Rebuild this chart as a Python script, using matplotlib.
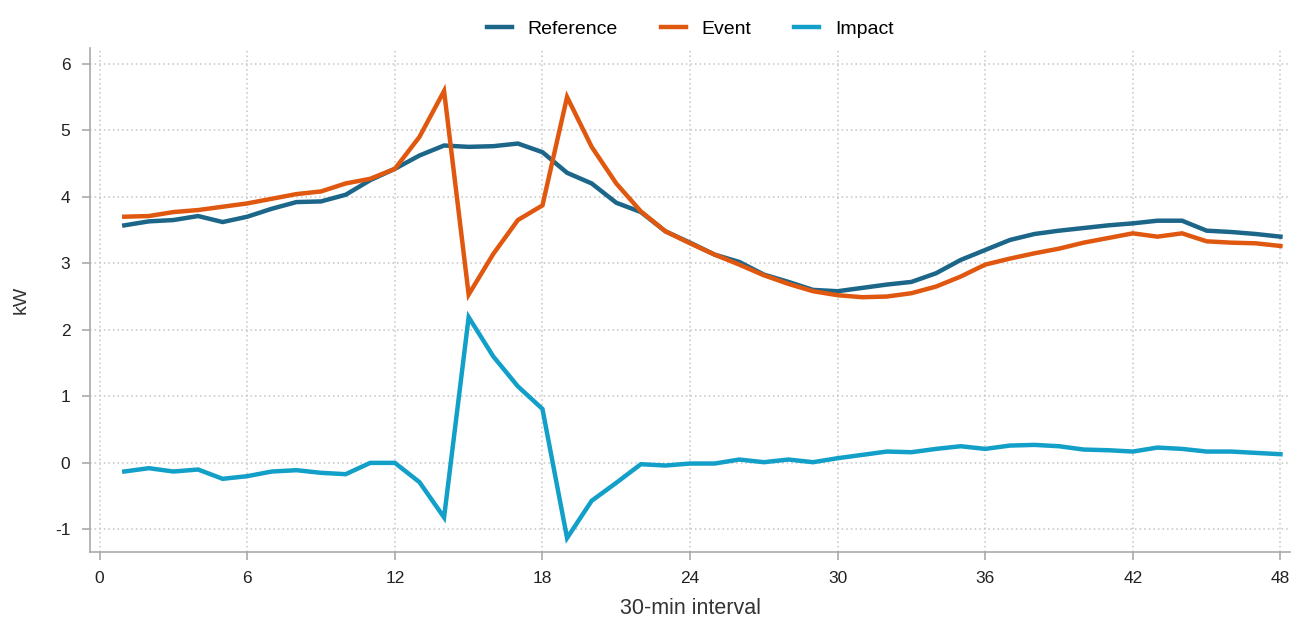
import matplotlib
matplotlib.use("Agg")
import matplotlib.pyplot as plt

plt.rcParams['font.family'] = ['Liberation Sans', 'DejaVu Sans']
plt.rcParams['axes.unicode_minus'] = False

intervals = list(range(1, 49))

reference = [3.57, 3.63, 3.65, 3.71, 3.62, 3.70, 3.82, 3.92, 3.93, 4.03,
             4.25, 4.42, 4.62, 4.77, 4.75, 4.76, 4.80, 4.67, 4.36, 4.20,
             3.91, 3.77, 3.48, 3.31, 3.13, 3.02, 2.83, 2.72, 2.60, 2.58,
             2.63, 2.68, 2.72, 2.85, 3.05, 3.20, 3.35, 3.44, 3.49, 3.53,
             3.57, 3.60, 3.64, 3.64, 3.49, 3.47, 3.44, 3.40]

event = [3.70, 3.71, 3.77, 3.80, 3.85, 3.90, 3.97, 4.04, 4.08, 4.20,
         4.27, 4.42, 4.90, 5.59, 2.53, 3.14, 3.65, 3.87, 5.50, 4.75,
         4.20, 3.78, 3.48, 3.30, 3.13, 2.98, 2.82, 2.69, 2.58, 2.52,
         2.49, 2.50, 2.55, 2.65, 2.80, 2.98, 3.07, 3.15, 3.22, 3.31,
         3.38, 3.45, 3.40, 3.45, 3.33, 3.31, 3.30, 3.26]

impact = [-0.13, -0.08, -0.13, -0.10, -0.24, -0.20, -0.13, -0.11, -0.15, -0.17,
          0.00, 0.00, -0.29, -0.82, 2.19, 1.60, 1.15, 0.81, -1.13, -0.57,
          -0.30, -0.02, -0.04, -0.01, -0.01, 0.05, 0.01, 0.05, 0.01, 0.07,
          0.12, 0.17, 0.16, 0.21, 0.25, 0.21, 0.26, 0.27, 0.25, 0.20,
          0.19, 0.17, 0.23, 0.21, 0.17, 0.17, 0.15, 0.13]

x_ticks = [0, 6, 12, 18, 24, 30, 36, 42, 48]
y_ticks = [-1, 0, 1, 2, 3, 4, 5, 6]

fig = plt.figure(figsize=(13.02, 6.28), dpi=100)
ax = fig.add_axes([0.069, 0.121, 0.922, 0.803])

ax.plot(intervals, reference, color="#1c6689", lw=3.2, label="Reference", solid_joinstyle="miter")
ax.plot(intervals, event, color="#e0580f", lw=3.2, label="Event", solid_joinstyle="miter")
ax.plot(intervals, impact, color="#129fc8", lw=3.2, label="Impact", solid_joinstyle="miter")

ax.set_xlim(-0.4, 48.4)
ax.set_ylim(-1.34, 6.24)
ax.set_xticks(x_ticks)
ax.set_yticks(y_ticks)
ax.grid(True, color="#c4c4c4", linestyle=(0, (1, 2)), linewidth=1.1)

for side in ["top", "right"]:
    ax.spines[side].set_visible(False)
for side in ["left", "bottom"]:
    ax.spines[side].set_color("#aaaaaa")
    ax.spines[side].set_linewidth(1.2)
ax.tick_params(colors="#aaaaaa", labelcolor="#222222", labelsize=12.5, length=6, width=1.2)
ax.tick_params(axis="x", pad=8)
ax.tick_params(axis="y", pad=8)

ax.set_xlabel("30-min interval", fontsize=15.5, color="#333333", labelpad=8)
ax.set_ylabel("kW", fontsize=14, color="#333333", labelpad=18)

ax.legend(loc="lower center", bbox_to_anchor=(0.5, 0.985), ncol=3, frameon=False,
          fontsize=14, handlelength=1.3, columnspacing=2.2, handletextpad=0.8)

fig.savefig("out.png", dpi=100)
